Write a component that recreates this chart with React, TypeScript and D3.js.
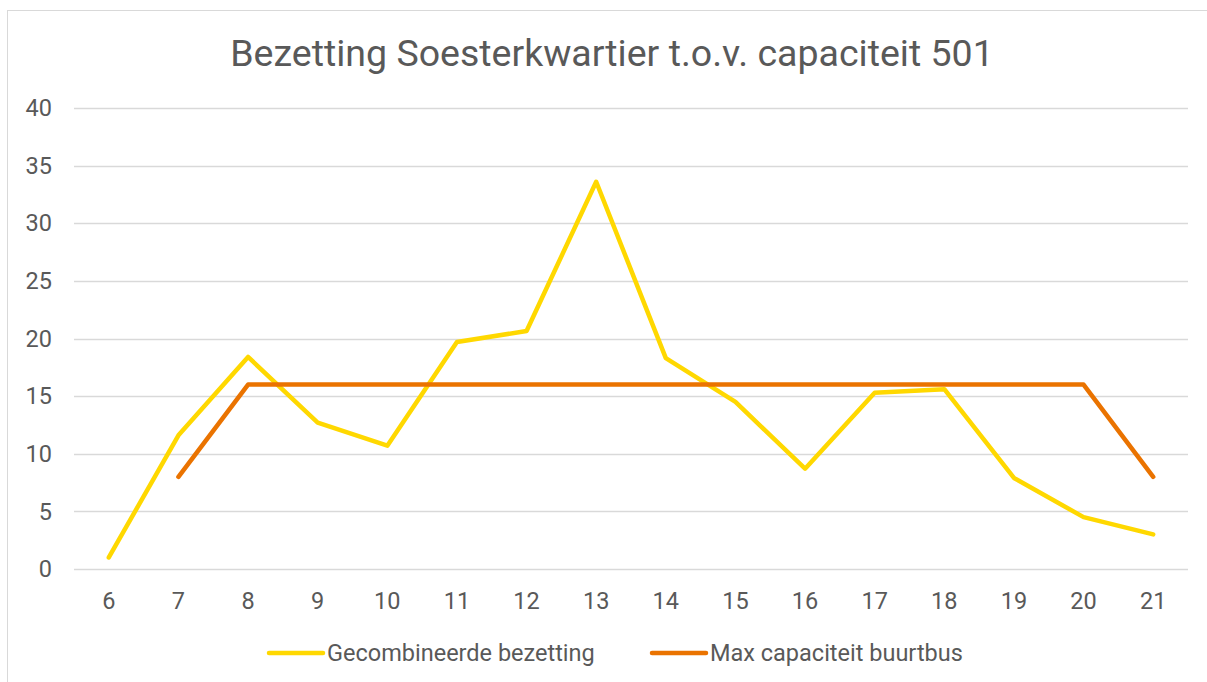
import * as d3 from 'd3';
import { useEffect, useRef } from 'react';

const hours = ['6', '7', '8', '9', '10', '11', '12', '13', '14', '15', '16', '17', '18', '19', '20', '21'];
const bezetting = [1.0, 11.6, 18.4, 12.7, 10.7, 19.7, 20.65, 33.6, 18.3, 14.5, 8.7, 15.3, 15.6, 7.9, 4.5, 3.0];
const maxCapaciteit: (number | null)[] = [null, 8, 16, 16, 16, 16, 16, 16, 16, 16, 16, 16, 16, 16, 16, 8];
const yTicks = [0, 5, 10, 15, 20, 25, 30, 35, 40];

const seriesNames = ['Gecombineerde bezetting', 'Max capaciteit buurtbus'];
const seriesColors = ['#FFD800', '#EA7300'];

const App = () => {
    const svgRef = useRef<SVGSVGElement | null>(null);

    useEffect(() => {
        const width = 1207;
        const height = 682;
        const font = 'Roboto, sans-serif';
        const textColor = '#595959';

        const svg = d3.select(svgRef.current);
        svg.selectAll('*').remove();
        svg.attr('width', width).attr('height', height);

        // chart border
        svg.append('rect')
            .attr('x', 7.5)
            .attr('y', 10.5)
            .attr('width', 1210)
            .attr('height', 700)
            .attr('fill', '#fff')
            .attr('stroke', '#d9d9d9')
            .attr('stroke-width', 1);

        svg.append('text')
            .attr('x', 612)
            .attr('y', 66)
            .attr('text-anchor', 'middle')
            .attr('font-family', font)
            .attr('font-size', 37.5)
            .attr('fill', textColor)
            .text('Bezetting Soesterkwartier t.o.v. capaciteit 501');

        const x = d3.scaleBand().domain(hours).range([74, 1188]);
        const y = d3.scaleLinear().domain([0, 40]).range([569, 108]);

        // gridlines
        svg.append('g')
            .selectAll('line')
            .data(yTicks)
            .enter()
            .append('line')
            .attr('x1', 74)
            .attr('x2', 1188)
            .attr('y1', (d) => Math.round(y(d)) + 0.5)
            .attr('y2', (d) => Math.round(y(d)) + 0.5)
            .attr('stroke', '#d9d9d9')
            .attr('stroke-width', 1.5);

        svg.append('g')
            .selectAll('text')
            .data(yTicks)
            .enter()
            .append('text')
            .attr('x', 52)
            .attr('y', (d) => y(d))
            .attr('dy', '0.35em')
            .attr('text-anchor', 'end')
            .attr('font-family', font)
            .attr('font-size', 23.5)
            .attr('fill', textColor)
            .text((d) => d);

        svg.append('g')
            .selectAll('text')
            .data(hours)
            .enter()
            .append('text')
            .attr('x', (d) => (x(d) ?? 0) + x.bandwidth() / 2)
            .attr('y', 601)
            .attr('dy', '0.35em')
            .attr('text-anchor', 'middle')
            .attr('font-family', font)
            .attr('font-size', 23.5)
            .attr('fill', textColor)
            .text((d) => d);

        const cx = (i: number) => (x(hours[i]) ?? 0) + x.bandwidth() / 2;

        const line = d3
            .line<number | null>()
            .defined((d) => d !== null)
            .x((_, i) => cx(i))
            .y((d) => y(d as number));

        [bezetting, maxCapaciteit].forEach((values, k) => {
            svg.append('path')
                .datum(values as (number | null)[])
                .attr('d', line)
                .attr('fill', 'none')
                .attr('stroke', seriesColors[k])
                .attr('stroke-width', 4.5)
                .attr('stroke-linejoin', 'round')
                .attr('stroke-linecap', 'round');
        });

        // legend
        const legendX = [268, 651];
        const legend = svg.append('g');
        seriesNames.forEach((name, k) => {
            legend.append('line')
                .attr('x1', legendX[k] + 1)
                .attr('x2', legendX[k] + 55)
                .attr('y1', 653)
                .attr('y2', 653)
                .attr('stroke', seriesColors[k])
                .attr('stroke-width', 4.5)
                .attr('stroke-linecap', 'round');
            legend.append('text')
                .attr('x', legendX[k] + 59)
                .attr('y', 653)
                .attr('dy', '0.35em')
                .attr('font-family', font)
                .attr('font-size', 23.5)
                .attr('fill', textColor)
                .text(name);
        });
    }, []);

    return (
        <svg
            ref={svgRef}
            style={{ position: 'absolute', left: 0, top: 0, display: 'block' }}
        />
    );
};

export default App;
